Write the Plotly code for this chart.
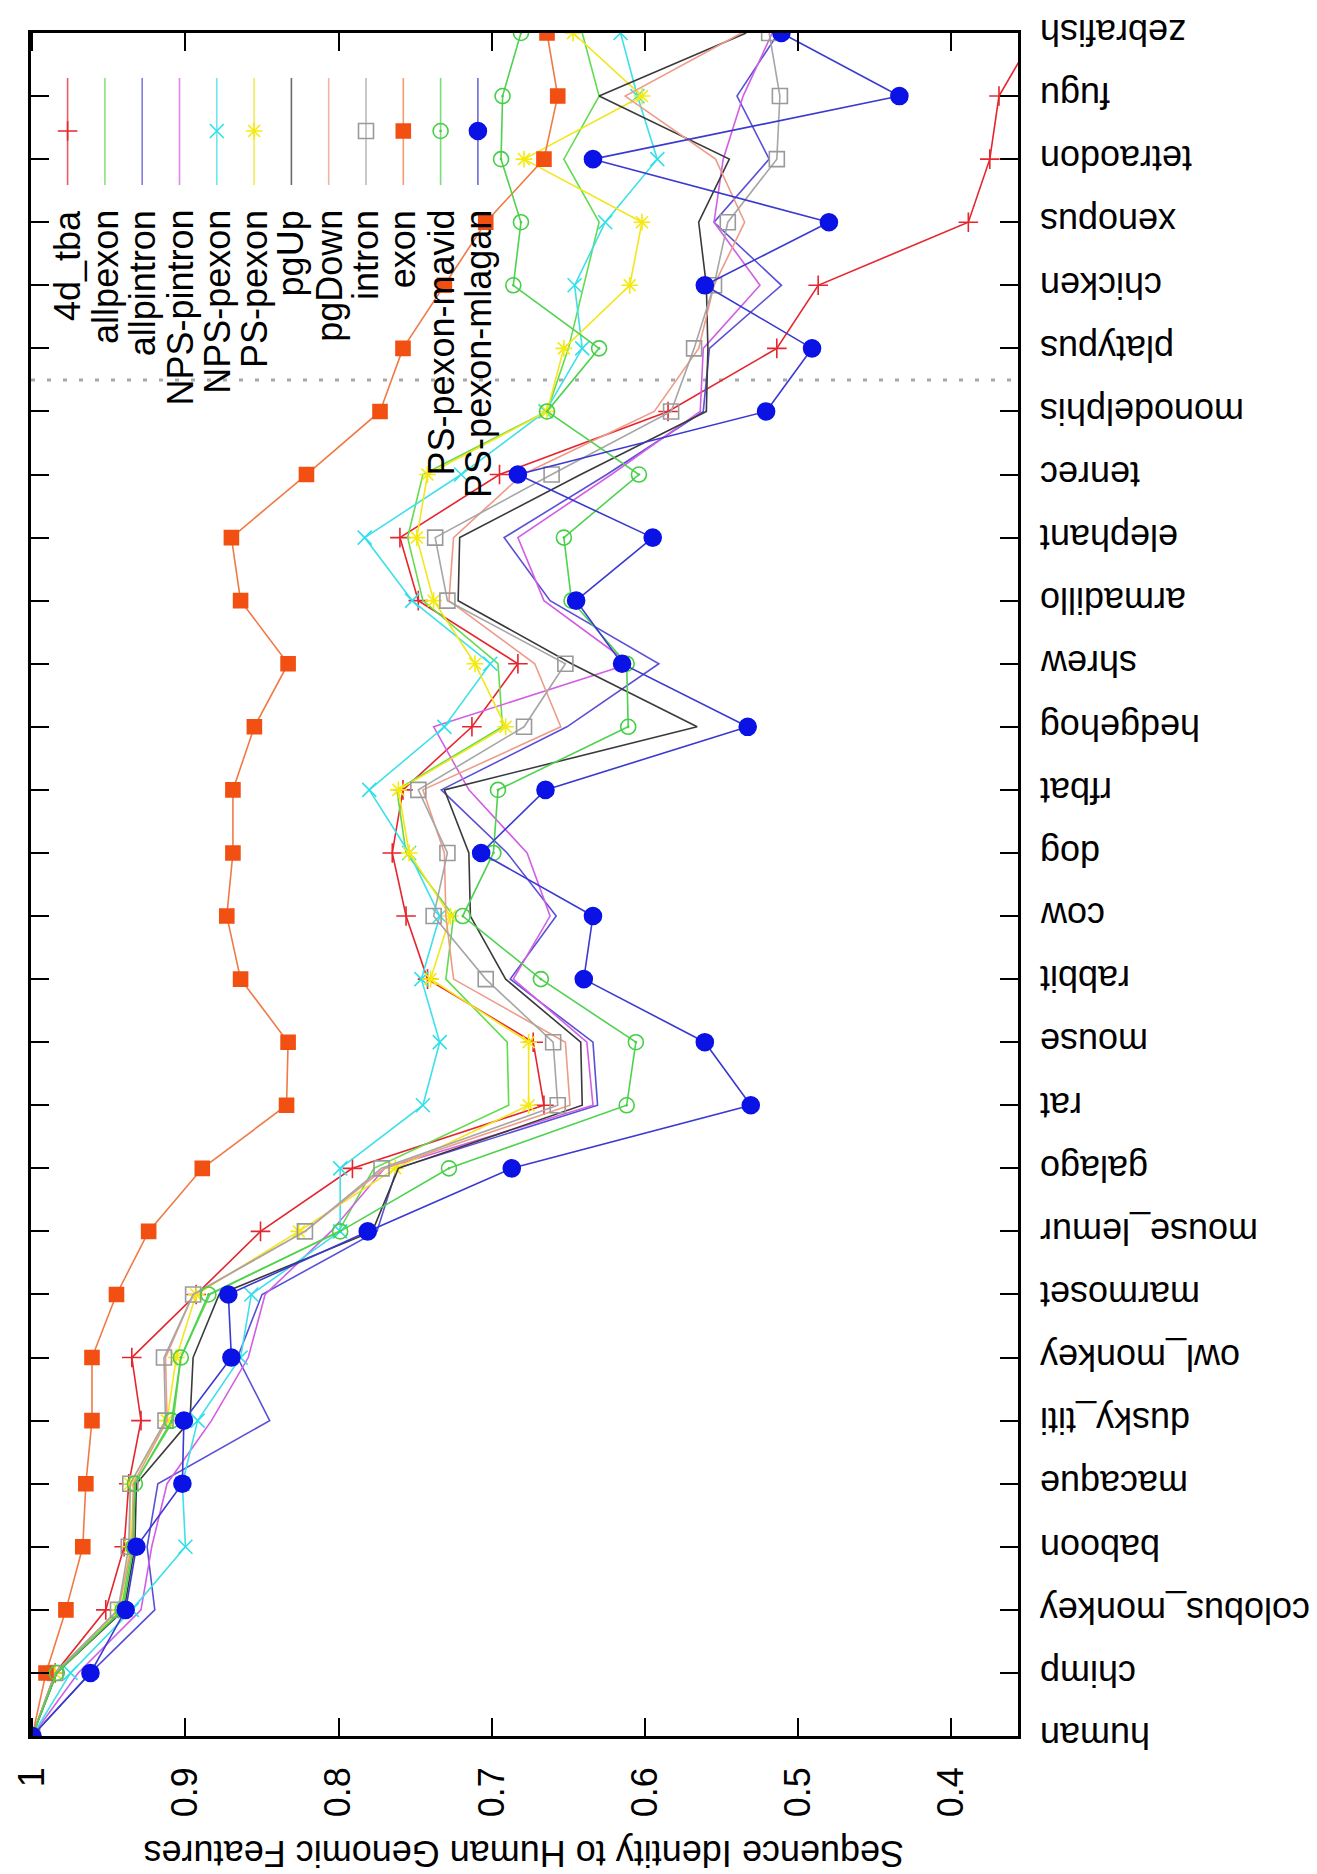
import plotly.graph_objects as go

# ---------------- data ----------------
species = ["human", "chimp", "colobus_monkey", "baboon", "macaque", "dusky_titi",
           "owl_monkey", "marmoset", "mouse_lemur", "galago", "rat", "mouse", "rabbit",
           "cow", "dog", "rfbat", "hedgehog", "shrew", "armadillo", "elephant", "tenrec",
           "monodelphis", "platypus", "chicken", "xenopus", "tetraodon", "fugu", "zebrafish"]

value_ticks = [1.0, 0.9, 0.8, 0.7, 0.6, 0.5, 0.4]
value_tick_labels = ["1", "0.9", "0.8", "0.7", "0.6", "0.5", "0.4"]

d4_tba = [1.0, 0.985, 0.952, 0.940, 0.937, 0.929, 0.935, 0.893, 0.851, 0.791, 0.666, 0.673, 0.742, 0.756,
          0.765, 0.758, 0.713, 0.683, 0.748, 0.760, 0.695, 0.585, 0.514, 0.487, 0.389, 0.375, 0.369, 0.345]
allpexon = [1.0, 0.984, 0.942, 0.935, 0.933, 0.908, 0.903, 0.884, 0.800, 0.777, 0.689, 0.690, 0.730, 0.725,
            0.756, 0.762, 0.693, 0.696, 0.745, 0.755, 0.745, 0.664, 0.650, 0.640, 0.630, 0.653, 0.630, 0.641]
allpintron = [1.0, 0.962, 0.920, 0.925, 0.918, 0.845, 0.866, 0.850, 0.775, 0.762, 0.631, 0.634, 0.688, 0.658,
              0.690, 0.733, 0.651, 0.591, 0.662, 0.692, 0.625, 0.562, 0.558, 0.511, 0.555, 0.519, 0.540, 0.513]
nps_pintron = [1.0, 0.970, 0.929, 0.922, 0.912, 0.883, 0.859, 0.848, 0.805, 0.770, 0.634, 0.638, 0.686, 0.662,
               0.677, 0.715, 0.738, 0.610, 0.666, 0.683, 0.622, 0.564, 0.562, 0.525, 0.555, 0.549, 0.536, 0.517]
nps_pexon = [1.0, 0.975, 0.935, 0.900, 0.902, 0.892, 0.864, 0.857, 0.799, 0.799, 0.745, 0.734, 0.746, 0.734,
             0.754, 0.780, 0.731, 0.701, 0.752, 0.783, 0.720, 0.665, 0.641, 0.646, 0.626, 0.592, 0.605, 0.616]
ps_pexon = [1.0, 0.985, 0.943, 0.936, 0.936, 0.912, 0.906, 0.893, 0.826, 0.763, 0.676, 0.676, 0.740, 0.727,
            0.754, 0.761, 0.691, 0.711, 0.738, 0.749, 0.742, 0.664, 0.653, 0.610, 0.602, 0.679, 0.602, 0.647]
pg_up = [1.0, 0.984, 0.940, 0.933, 0.932, 0.897, 0.895, 0.878, 0.778, 0.761, 0.641, 0.642, 0.691, 0.714,
         0.715, 0.731, 0.566, 0.648, 0.722, 0.721, 0.642, 0.560, 0.559, 0.560, 0.565, 0.545, 0.630, 0.534]
pg_down = [1.0, 0.985, 0.944, 0.935, 0.934, 0.912, 0.913, 0.895, 0.822, 0.770, 0.649, 0.652, 0.725, 0.730,
           0.731, 0.745, 0.655, 0.672, 0.728, 0.725, 0.680, 0.594, 0.565, 0.555, 0.535, 0.554, 0.613, 0.537]
intron = [1.0, 0.985, 0.944, 0.937, 0.936, 0.913, 0.914, 0.895, 0.822, 0.772, 0.657, 0.660, 0.704, 0.738,
          0.729, 0.748, 0.679, 0.652, 0.729, 0.737, 0.661, 0.583, 0.568, 0.555, 0.546, 0.514, 0.512, 0.519]
exon = [1.0, 0.991, 0.978, 0.967, 0.965, 0.961, 0.961, 0.945, 0.924, 0.889, 0.834, 0.833, 0.864, 0.873,
        0.869, 0.869, 0.855, 0.833, 0.864, 0.870, 0.821, 0.773, 0.758, 0.731, 0.704, 0.666, 0.657, 0.664]
ps_pexon_mavid = [1.0, 0.984, 0.941, 0.934, 0.933, 0.909, 0.903, 0.885, 0.799, 0.728, 0.612, 0.606, 0.668, 0.719,
                  0.699, 0.696, 0.611, 0.612, 0.648, 0.653, 0.604, 0.664, 0.630, 0.686, 0.681, 0.694, 0.693, 0.681]
ps_pexon_mlagan = [1.0, 0.962, 0.939, 0.932, 0.902, 0.901, 0.870, 0.872, 0.781, 0.687, 0.531, 0.561, 0.640, 0.634,
                   0.707, 0.665, 0.533, 0.615, 0.645, 0.595, 0.683, 0.521, 0.491, 0.561, 0.480, 0.634, 0.434, 0.511]

series_names = ["4d_tba", "allpexon", "allpintron", "NPS-pintron", "NPS-pexon", "PS-pexon",
                "pgUp", "pgDown", "intron", "exon", "PS-pexon-mavid", "PS-pexon-mlagan"]
series_values = [d4_tba, allpexon, allpintron, nps_pintron, nps_pexon, ps_pexon,
                 pg_up, pg_down, intron, exon, ps_pexon_mavid, ps_pexon_mlagan]

# ---------------- styles ----------------
line_colors = ["#e5262e", "#62dc4e", "#5a50d6", "#d35ee4", "#3fe0ea", "#f2e61c",
               "#3a3a3a", "#ee9c88", "#a6a6a6", "#f07a45", "#4fd24f", "#3a3ad0"]
marker_colors = ["#e5262e", None, None, None, "#2fe0ea", "#f5ea10",
                 None, None, "#9a9a9a", "#f24f12", "#45cf45", "#0a12e6"]
marker_symbols = ["cross-thin-open", None, None, None, "x-thin-open", "asterisk-open",
                  None, None, "square-open", "square", "circle-open-dot", "circle"]
marker_sizes = [14, 0, 0, 0, 14, 14, 0, 0, 15, 14, 15, 17]

W, H = 1317, 1874
ML, MR, MT, MB = 23, 307, 25, 146
PW, PH = W - ML - MR, H - MT - MB
FONT = "Liberation Sans, Arial, Helvetica, sans-serif"
FS = 36

def px_x(x):
    return (x - ML) / PW

def px_y(y):
    return (H - MB - y) / PH

fig = go.Figure()
idx = list(range(len(species)))

for name, vals, lc, mc, ms, sz in zip(series_names, series_values, line_colors,
                                      marker_colors, marker_symbols, marker_sizes):
    if ms is None:
        fig.add_trace(go.Scatter(x=vals, y=idx, mode="lines", name=name,
                                 line=dict(color=lc, width=1.6), showlegend=False))
    else:
        fig.add_trace(go.Scatter(x=vals, y=idx, mode="lines+markers", name=name,
                                 line=dict(color=lc, width=1.6),
                                 marker=dict(symbol=ms, size=sz, color=mc,
                                             line=dict(color=mc, width=1.6)),
                                 showlegend=False))

# ---------------- custom vertical legend (layout positions) ----------------
LEG_X0, LEG_DX = 59.6, 37.3
LEG_TOP, LEG_BOT, LEG_MARK, LEG_TEXT = 70, 177, 123, 200
annotations = []
for k, (name, lc, mc, ms, sz) in enumerate(zip(series_names, line_colors, marker_colors,
                                               marker_symbols, marker_sizes)):
    cx = px_x(LEG_X0 + LEG_DX * k)
    fig.add_trace(go.Scatter(x=[cx, cx], y=[px_y(LEG_TOP), px_y(LEG_BOT)], mode="lines",
                             xaxis="x2", yaxis="y2", line=dict(color=lc, width=1.6),
                             opacity=0.75, showlegend=False, hoverinfo="skip"))
    if ms is not None:
        fig.add_trace(go.Scatter(x=[cx], y=[px_y(LEG_MARK)], mode="markers",
                                 xaxis="x2", yaxis="y2",
                                 marker=dict(symbol=ms, size=sz, color=mc,
                                             line=dict(color=mc, width=1.6)),
                                 showlegend=False, hoverinfo="skip"))
    annotations.append(dict(text=name, x=cx, y=px_y(LEG_TEXT), xref="paper", yref="paper",
                            xanchor="center", yanchor="top", textangle=-90, showarrow=False,
                            font=dict(family=FONT, size=FS, color="black")))

# species labels (upside-down, right of the plot)
for i, s in enumerate(species):
    annotations.append(dict(text=s, x=1, y=i, xref="paper", yref="y", xanchor="left",
                            yanchor="middle", xshift=20, textangle=180, showarrow=False,
                            font=dict(family=FONT, size=FS, color="black")))

# axis title (upside-down, below)
annotations.append(dict(text="Sequence Identity to Human Genomic Features", x=0.5, y=0,
                        xref="paper", yref="paper", xanchor="center", yanchor="middle",
                        yshift=-118, textangle=180, showarrow=False,
                        font=dict(family=FONT, size=FS, color="black")))

fig.update_layout(
    template="none",
    width=W, height=H,
    margin=dict(l=ML, r=MR, t=MT, b=MB, pad=0, autoexpand=False),
    paper_bgcolor="white", plot_bgcolor="white",
    font=dict(family=FONT, size=FS, color="black"),
    showlegend=False,
    annotations=annotations,
    shapes=[dict(type="line", xref="paper", x0=0, x1=1, yref="y", y0=21.5, y1=21.5,
                 line=dict(color="#a8a8a8", width=3, dash="4px,12px"), layer="below")],
    xaxis=dict(range=[1.0008, 1 - PW / 1534], tickvals=value_ticks, ticktext=value_tick_labels,
               tickangle=-90, ticks="inside", ticklen=18, tickwidth=2, tickcolor="black",
               mirror="ticks", showline=True, linewidth=2.5, linecolor="black",
               showgrid=False, zeroline=False, ticklabelstandoff=14, automargin=False,
               tickfont=dict(family=FONT, size=FS, color="black")),
    yaxis=dict(range=[0, 27], tickvals=idx, showticklabels=False, ticks="inside",
               ticklen=18, tickwidth=2, tickcolor="black", mirror="ticks", showline=True,
               linewidth=2.5, linecolor="black", showgrid=False, zeroline=False,
               automargin=False),
    xaxis2=dict(overlaying="x", range=[0, 1], visible=False, fixedrange=True),
    yaxis2=dict(overlaying="y", range=[0, 1], visible=False, fixedrange=True),
)

fig.write_html("out.html")
